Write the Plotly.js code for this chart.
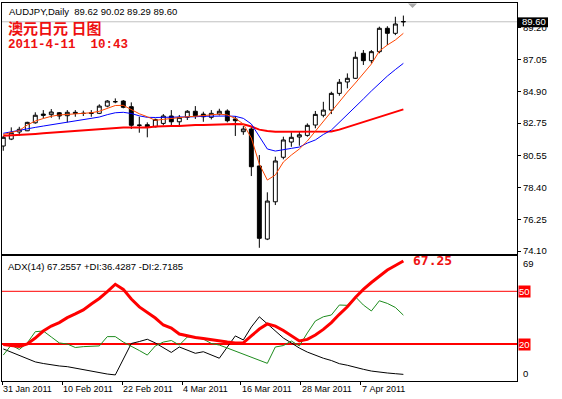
<!DOCTYPE html>
<html><head><meta charset="utf-8">
<script src="https://cdn.plot.ly/plotly-3.0.1.min.js"></script>
<style>html,body{margin:0;padding:0;background:#fff;overflow:hidden}#chart{width:562px;height:399px}</style>
</head><body><div id="chart"></div><script>
// ---------------- data ----------------
const symbol = "AUDJPY,Daily";
const titleCN = "澳元日元 日图";
const stamp = "2011-4-11  10:43";
const open  = [81.20,81.67,82.15,82.23,82.77,83.36,83.32,83.45,83.25,83.48,83.42,83.40,83.41,83.90,84.19,84.24,83.86,82.62,82.64,82.50,82.73,83.23,82.84,83.14,83.55,83.36,83.14,83.36,83.57,83.03,82.17,82.35,79.85,74.91,77.43,80.44,81.47,81.81,81.92,82.62,83.28,83.63,84.76,85.53,85.78,87.47,86.97,87.58,89.16,88.82,89.62];
const high  = [81.88,82.46,82.50,82.84,83.48,83.63,83.70,83.50,83.63,83.63,83.59,83.63,84.02,84.31,84.42,84.31,84.15,83.18,82.80,83.05,83.36,83.63,83.30,83.63,83.90,83.52,83.63,83.72,83.68,83.23,82.55,82.50,80.59,78.07,80.48,81.83,82.13,82.19,82.73,83.57,84.19,84.87,85.73,86.11,87.58,87.69,87.69,89.27,89.30,89.94,90.02];
const low   = [80.88,81.60,81.90,82.21,82.71,83.07,83.11,83.00,82.80,83.18,83.23,83.18,83.36,83.82,84.09,83.75,82.35,82.10,81.79,82.46,82.60,82.55,82.57,82.96,83.03,82.84,83.00,83.27,82.80,81.88,81.96,79.17,74.32,74.84,77.21,80.30,81.15,81.22,81.83,82.40,83.14,83.36,84.60,85.10,85.73,86.68,86.79,87.47,88.03,88.70,89.29];
const close = [81.79,82.10,82.33,82.80,83.28,83.28,83.50,83.23,83.48,83.41,83.40,83.44,83.90,84.24,84.20,83.82,82.60,82.60,82.50,83.00,83.23,82.84,83.14,83.55,83.25,83.18,83.41,83.55,82.91,82.91,82.35,79.80,74.96,77.48,80.19,81.61,81.79,81.96,82.60,83.34,83.63,84.76,85.51,85.78,87.20,86.97,87.58,89.16,88.82,89.45,89.60];
const maFast = [81.98,82.11,82.25,82.62,82.89,83.06,83.21,83.30,83.34,83.38,83.41,83.45,83.55,83.77,83.94,83.95,83.67,83.38,83.18,82.94,83.00,83.07,83.14,83.18,83.21,83.25,83.30,83.36,83.30,83.07,82.69,81.74,79.98,78.90,79.24,80.12,80.59,81.00,81.54,82.21,82.89,83.50,84.24,84.85,85.46,86.07,86.74,87.62,88.03,88.37,88.82];
const maMid  = [82.06,82.17,82.28,82.40,82.46,82.55,82.64,82.73,82.82,82.89,82.96,83.04,83.16,83.32,83.45,83.48,83.40,83.24,83.14,83.13,83.13,83.13,83.14,83.16,83.18,83.21,83.23,83.23,83.23,83.21,83.07,82.69,81.88,81.00,80.86,80.93,81.04,81.13,81.40,81.61,81.98,82.28,82.79,83.30,83.84,84.38,84.92,85.46,85.93,86.37,86.79];
const maSlow = [81.90,81.92,81.94,81.98,82.02,82.06,82.10,82.15,82.19,82.23,82.26,82.30,82.33,82.40,82.42,82.45,82.46,82.46,82.46,82.52,82.55,82.55,82.55,82.60,82.62,82.62,82.64,82.67,82.69,82.69,82.67,82.52,82.31,82.21,82.17,82.17,82.17,82.17,82.17,82.17,82.17,82.18,82.31,82.48,82.65,82.82,82.99,83.16,83.33,83.50,83.68];
const adx     = [19.7,19.1,18.6,20.0,23.4,27.4,30.2,32.2,35.0,37.1,39.4,42.8,45.9,49.8,54.0,51.1,45.6,41.1,37.9,34.8,30.8,29.1,25.7,24.6,23.7,23.1,22.3,21.7,21.1,20.6,20.7,24.6,28.5,31.4,30.2,27.7,24.6,21.7,22.6,25.1,28.3,32.2,36.9,41.2,46.5,51.1,55.0,58.8,62.1,64.7,67.2557];
const plusDI  = [13.7,19.4,16.9,20.6,27.0,27.4,24.0,20.6,20.0,18.0,18.5,18.6,18.9,24.2,24.2,21.1,18.9,16.3,13.7,18.9,21.1,22.0,19.4,24.0,24.0,22.8,20.3,19.4,17.7,16.0,14.3,12.3,10.6,9.0,18.3,19.1,21.7,18.9,26.3,33.1,35.5,36.5,42.2,42.0,46.9,42.2,38.8,44.6,43.1,40.8,36.4287];
const minusDI = [17.2,15.4,13.5,11.5,9.8,8.9,8.0,7.5,7.1,6.2,5.4,4.6,3.8,2.9,2.4,11.5,20.3,21.4,22.7,20.6,17.7,15.2,18.3,16.6,14.7,15.6,13.7,11.9,18.3,24.6,22.3,29.7,35.5,31.4,27.4,23.4,20.6,17.7,15.4,13.5,11.9,10.6,8.8,7.9,6.6,5.6,4.6,3.9,3.5,3.1,2.7185];
const priceTicks = [74.10,76.25,78.40,80.55,82.75,84.90,87.05,89.20];
const adxLevels = [20,50];
const adxTickVals = [3.1,65.5];
const adxTickText = ["0","69"];
const dateTickPos = [-0.1,7.4,14.85,22.35,29.7,37.2,44.65];
const dateTickText = ["31 Jan 2011","10 Feb 2011","22 Feb 2011","4 Mar 2011","16 Mar 2011","28 Mar 2011","7 Apr 2011"];

// ---------------- layout helpers ----------------
const idx = close.map((_, i) => i);
const last = close.length - 1;
const W = 562, H = 399, ML = 2, MR = 45, MT = 3, MB = 18;
const PW = W - ML - MR, PH = H - MT - MB;
const px = x => (x - ML) / PW;
const py = y => (H - MB - y) / PH;
const fontUI = "Liberation Sans, Arial, sans-serif";
const nb = s => s.replace(/ /g, "\u00a0");
const f2 = v => v.toFixed(2);
const trunc2 = v => (Math.floor(v * 100) / 100).toFixed(2);

const traces = [
  {type:'candlestick', x:idx, open:open, high:high, low:low, close:close, xaxis:'x2', yaxis:'y',
   increasing:{line:{color:'#000', width:1}, fillcolor:'#ffffff'},
   decreasing:{line:{color:'#000', width:1}, fillcolor:'#000000'},
   whiskerwidth:0, hoverinfo:'none', showlegend:false},
  {type:'scatter', mode:'lines', x:idx, y:maSlow, xaxis:'x2', yaxis:'y', line:{color:'#ff0000', width:2}, hoverinfo:'skip'},
  {type:'scatter', mode:'lines', x:idx, y:maMid, xaxis:'x2', yaxis:'y', line:{color:'#0000ff', width:1}, hoverinfo:'skip'},
  {type:'scatter', mode:'lines', x:idx, y:maFast, xaxis:'x2', yaxis:'y', line:{color:'#ff4500', width:1}, hoverinfo:'skip'},
  {type:'scatter', mode:'lines', x:idx, y:minusDI, xaxis:'x', yaxis:'y2', line:{color:'#000000', width:1}, hoverinfo:'skip'},
  {type:'scatter', mode:'lines', x:idx, y:plusDI, xaxis:'x', yaxis:'y2', line:{color:'#1e8c1e', width:1}, hoverinfo:'skip'},
  {type:'scatter', mode:'lines', x:idx, y:adx, xaxis:'x', yaxis:'y2', line:{color:'#ff0000', width:3}, hoverinfo:'skip'}
];

const xr = [-0.16, 64.2];
const mainDom = [(H - MB - 254) / PH, 1];
const adxDom = [0, (H - MB - 256) / PH];

const annotations = [
  {xref:'paper', yref:'paper', x:px(7), y:py(11.5), xanchor:'left', yanchor:'middle', showarrow:false,
   text: nb(symbol + "  " + [open[last],high[last],low[last],close[last]].map(f2).join(" ")),
   font:{family:fontUI, size:9.5, color:'#000'}},
  {xref:'paper', yref:'paper', x:px(7), y:py(27), xanchor:'left', yanchor:'middle', showarrow:false, borderpad:0,
   text: titleCN, font:{family:'Noto Sans CJK SC', size:15, color:'#ee1111', weight:'bold'}},
  {xref:'paper', yref:'paper', x:px(7), y:py(45), xanchor:'left', yanchor:'middle', showarrow:false, borderpad:0,
   text: nb(stamp), font:{family:'Liberation Mono, DejaVu Sans Mono, monospace', size:12.5, color:'#ee1111', weight:'bold'}},
  {xref:'paper', yref:'paper', x:px(6), y:py(266), xanchor:'left', yanchor:'middle', showarrow:false,
   text: nb("ADX(14) " + adx[last].toFixed(4) + " +DI:" + plusDI[last].toFixed(4) + " -DI:" + minusDI[last].toFixed(4)),
   font:{family:fontUI, size:9.5, color:'#000'}},
  {xref:'x', yref:'y2', x:last, y:adx[last], xanchor:'left', yanchor:'middle', xshift:8, yshift:0, showarrow:false,
   text: trunc2(adx[last]), font:{family:'DejaVu Sans Mono', size:13, color:'#ee1111', weight:'bold'}},
  {xref:'paper', yref:'y', x:1, y:close[last], xanchor:'left', yanchor:'middle', xshift:3, yshift:0.5, showarrow:false,
   text: f2(close[last]), font:{family:fontUI, size:9.5, color:'#fff'}}
];
adxLevels.forEach(v => annotations.push({xref:'paper', yref:'y2', x:1, y:v, xanchor:'left', yanchor:'middle', xshift:1,
  showarrow:false, text:String(v), bgcolor:'#ff0000', borderpad:0, font:{family:fontUI, size:9.5, color:'#fff'}}));
dateTickPos.forEach((p, i) => annotations.push({xref:'x', yref:'paper', x:p, y:py(389), xanchor:'left', yanchor:'middle',
  xshift:-1, showarrow:false, text:nb(dateTickText[i]), font:{family:fontUI, size:9, color:'#000'}}));

const shapes = [
  {type:'line', xref:'paper', yref:'y', x0:0, x1:1, y0:close[last], y1:close[last], line:{color:'#c0c0c0', width:1}, layer:'below'},
  {type:'rect', xref:'paper', yref:'y', x0:px(518), x1:px(548), y0:close[last] - 0.37, y1:close[last] + 0.30,
   fillcolor:'#000', line:{width:0}, layer:'above'},
  {type:'path', xref:'paper', yref:'paper', path:`M ${px(408)} ${py(3.5)} L ${px(417)} ${py(3.5)} L ${px(412.5)} ${py(8)} Z`,
   fillcolor:'#a8a8a8', line:{width:0}}
];
adxLevels.forEach(v => shapes.push({type:'line', xref:'paper', yref:'y2', x0:0, x1:1, y0:v, y1:v,
  line:{color:'#ff0000', width: v === 20 ? 2 : 1}, layer:'below'}));

const axLine = {showline:true, linecolor:'#000', linewidth:1, mirror:true, showgrid:false, zeroline:false};
const layout = {
  width:W, height:H, margin:{l:ML, r:MR, t:MT, b:MB, pad:0},
  paper_bgcolor:'#fff', plot_bgcolor:'#fff', showlegend:false, dragmode:false,
  xaxis: Object.assign({}, axLine, {domain:[0,1], anchor:'y2', range:xr, tickmode:'array', tickvals:dateTickPos,
    ticks:'outside', ticklen:3, tickcolor:'#000', showticklabels:false, rangeslider:{visible:false}}),
  xaxis2: Object.assign({}, axLine, {domain:[0,1], anchor:'y', range:xr, matches:'x', ticks:'', showticklabels:false,
    rangeslider:{visible:false}}),
  yaxis: Object.assign({}, axLine, {domain:mainDom, anchor:'x2', side:'right', range:[73.90, 90.87], tickmode:'array',
    tickvals:priceTicks, ticktext:priceTicks.map(f2), ticks:'outside', ticklen:3, tickcolor:'#000',
    tickfont:{family:fontUI, size:9.5, color:'#000'}}),
  yaxis2: Object.assign({}, axLine, {domain:adxDom, anchor:'x', side:'right', range:[-1.06, 70.09], tickmode:'array',
    tickvals:adxTickVals, ticktext:adxTickText, ticks:'outside', ticklen:3, tickcolor:'rgba(0,0,0,0)',
    tickfont:{family:fontUI, size:9.5, color:'#000'}}),
  annotations: annotations, shapes: shapes
};
Plotly.newPlot('chart', traces, layout, {staticPlot:true, displayModeBar:false});
</script></body></html>
